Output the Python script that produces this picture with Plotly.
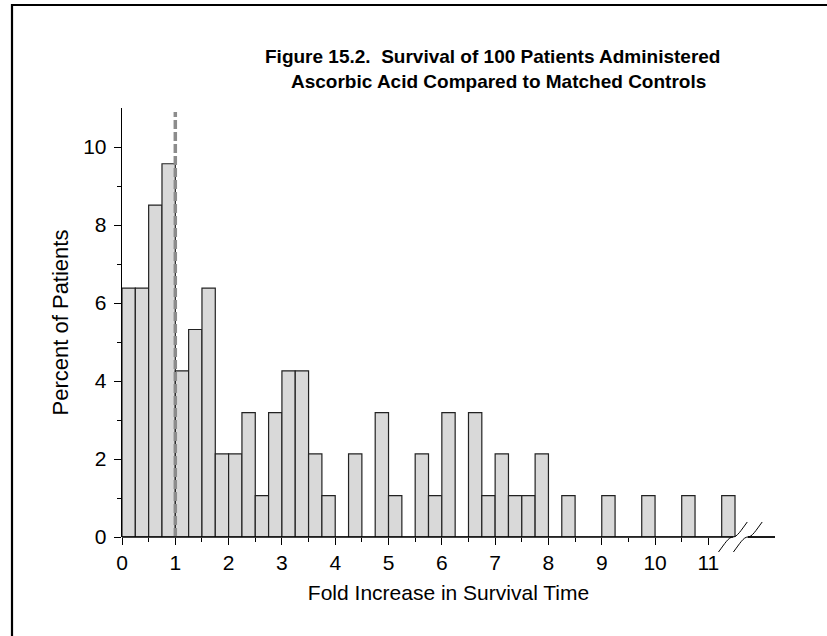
import plotly.graph_objects as go

# ---- data ----
bin_left = [i * 0.25 for i in range(46)]  # bin edges 0 .. 11.25
percent = [6.38, 6.38, 8.51, 9.57, 4.26, 5.32, 6.38, 2.13,
           2.13, 3.19, 1.06, 3.19, 4.26, 4.26, 2.13, 1.06,
           0.0, 2.13, 0.0, 3.19, 1.06, 0.0, 2.13, 1.06,
           3.19, 0.0, 3.19, 1.06, 2.13, 1.06, 1.06, 2.13,
           0.0, 1.06, 0.0, 0.0, 1.06, 0.0, 0.0, 1.06,
           0.0, 0.0, 1.06, 0.0, 0.0, 1.06]
bin_width = 0.25
x_ticks = list(range(0, 12))
x_minor = [i + 0.5 for i in range(0, 11)]
y_ticks = [0, 2, 4, 6, 8, 10]
y_minor = [1, 3, 5, 7, 9]
ref_line_x = 1

W, H = 827, 636
L, T = 122, 108
R = W - 775
B = H - 537
XR = [0, 12.25]
YR = [0, 11]
pw, ph = W - L - R, H - T - B

def pxp(px):  # page pixel x -> paper
    return (px - L) / pw

def pyp(py):  # page pixel y -> paper
    return (H - B - py) / ph

def dxp(x):  # data x -> paper
    return (x - XR[0]) / (XR[1] - XR[0])

def dyp(y):
    return (y - YR[0]) / (YR[1] - YR[0])

centers = [b + bin_width / 2 for b in bin_left]

fig = go.Figure()
fig.add_trace(go.Bar(
    x=centers, y=percent, width=bin_width,
    marker=dict(color="#d9d9d9", line=dict(color="#222222", width=1.2)),
    hoverinfo="skip", showlegend=False,
))

font = "Liberation Sans, Arial, sans-serif"

shapes = []
# outer frame
shapes.append(dict(type="rect", xref="paper", yref="paper",
                   x0=pxp(12), x1=pxp(860), y0=pyp(660), y1=pyp(5),
                   line=dict(color="black", width=2.2), layer="above"))
# reference dashed line at x=1
shapes.append(dict(type="line", xref="x", yref="y", x0=ref_line_x, x1=ref_line_x,
                   y0=0, y1=10.9, line=dict(color="#8c8c8c", width=3.5, dash="9px,3px"),
                   layer="above"))
# x axis line with break
brk1 = 11.46
brk2 = 11.74
shapes.append(dict(type="line", xref="paper", yref="paper", x0=dxp(0), x1=dxp(brk1),
                   y0=0, y1=0, line=dict(color="black", width=1.3), layer="above"))
shapes.append(dict(type="line", xref="paper", yref="paper", x0=dxp(brk2), x1=dxp(12.25),
                   y0=0, y1=0, line=dict(color="black", width=1.8), layer="above"))

def squiggle(xc):
    dx1, dx2 = 0.27, 0.08
    dy = 0.385
    p0 = (dxp(xc - dx1), dyp(-dy))
    c1 = (dxp(xc - dx1 + 0.12), dyp(-dy + 0.22))
    c2 = (dxp(xc - dx2), dyp(0))
    m = (dxp(xc), dyp(0))
    c3 = (dxp(xc + dx2), dyp(0))
    c4 = (dxp(xc + dx1 - 0.12), dyp(dy - 0.22))
    p3 = (dxp(xc + dx1), dyp(dy))
    f = lambda p: f"{p[0]:.5f},{p[1]:.5f}"
    return f"M {f(p0)} C {f(c1)} {f(c2)} {f(m)} C {f(c3)} {f(c4)} {f(p3)}"

for xc in (brk1, brk2):
    shapes.append(dict(type="path", xref="paper", yref="paper", path=squiggle(xc),
                       line=dict(color="black", width=1), layer="above"))

annotations = [
    dict(text="<b>Figure 15.2.&nbsp; Survival of 100 Patients Administered</b>",
         xref="paper", yref="paper", x=pxp(492), y=pyp(56), xanchor="center",
         yanchor="middle", showarrow=False, font=dict(family=font, size=19, color="black")),
    dict(text="<b>Ascorbic Acid Compared to Matched Controls</b>",
         xref="paper", yref="paper", x=pxp(498), y=pyp(81), xanchor="center",
         yanchor="middle", showarrow=False, font=dict(family=font, size=19, color="black")),
]

fig.update_layout(
    width=W, height=H,
    margin=dict(l=L, r=R, t=T, b=B, pad=0),
    paper_bgcolor="white", plot_bgcolor="white",
    bargap=0,
    font=dict(family=font, color="black"),
    shapes=shapes, annotations=annotations,
    xaxis=dict(range=XR, tickvals=x_ticks, ticktext=[str(v) for v in x_ticks],
               ticks="outside", ticklen=7, tickwidth=1, tickcolor="black",
               showline=False, showgrid=False, zeroline=False,
               tickfont=dict(size=21, family=font),
               minor=dict(tickvals=x_minor, ticks="outside", ticklen=4,
                          tickcolor="black", tickwidth=1, showgrid=False),
               title=dict(text="Fold Increase in Survival Time", font=dict(size=21, family=font),
                          standoff=12)),
    yaxis=dict(range=YR, tickvals=y_ticks, ticks="outside", ticklen=7, tickwidth=1,
               tickcolor="black", showline=True, linecolor="black", linewidth=1.3,
               showgrid=False, zeroline=False, tickfont=dict(size=21, family=font),
               ticklabelstandoff=3,
               minor=dict(tickvals=y_minor, ticks="outside", ticklen=4,
                          tickcolor="black", tickwidth=1, showgrid=False),
               title=dict(text="Percent of Patients", font=dict(size=22, family=font),
                          standoff=8)),
)

fig.write_html(
    "out.html",
    config={"displayModeBar": False, "staticPlot": True},
    post_script="document.body.style.margin='0';"
                "document.documentElement.style.overflow='hidden';",
)
